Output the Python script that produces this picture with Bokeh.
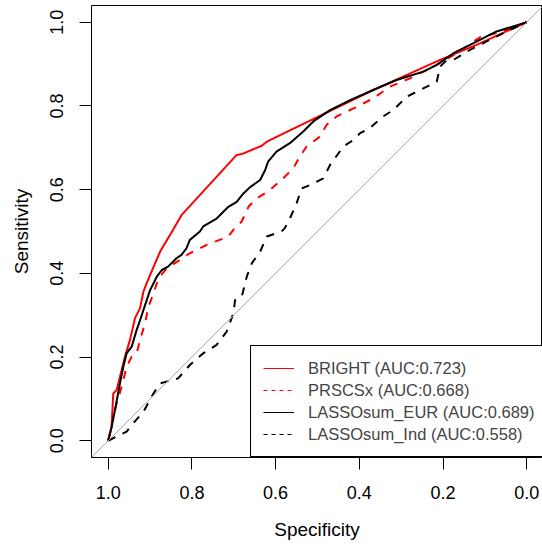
from bokeh.plotting import figure
from bokeh.models import (Range1d, FixedTicker, CustomJSTickFormatter, Slope,
                          Legend, LegendItem)
from bokeh.embed import file_html
from bokeh.resources import INLINE

# ---- data ----
series_names = ["BRIGHT (AUC:0.723)", "PRSCSx (AUC:0.668)",
                "LASSOsum_EUR (AUC:0.689)", "LASSOsum_Ind (AUC:0.558)"]

bright_spec = [1.0, 0.992, 0.988, 0.980, 0.972, 0.960, 0.948, 0.936, 0.924, 0.916, 0.908,
               0.876, 0.845, 0.825, 0.693, 0.681, 0.633, 0.622, 0.582, 0.367, 0.207, 0.120, 0.0]
bright_sens = [0.0, 0.033, 0.113, 0.121, 0.153, 0.201, 0.241, 0.293, 0.317, 0.356, 0.377,
               0.452, 0.504, 0.539, 0.683, 0.685, 0.705, 0.714, 0.734, 0.838, 0.910, 0.946, 1.0]

prscsx_spec = [1.0, 0.988, 0.980, 0.968, 0.956, 0.944, 0.932, 0.924, 0.912, 0.904, 0.892,
               0.880, 0.860, 0.829, 0.805, 0.765, 0.713, 0.701, 0.681, 0.665, 0.645, 0.614,
               0.582, 0.558, 0.542, 0.526, 0.494, 0.478, 0.454, 0.414, 0.367, 0.327, 0.279,
               0.215, 0.167, 0.112, 0.056, 0.0]
prscsx_sens = [0.0, 0.057, 0.089, 0.129, 0.177, 0.201, 0.209, 0.241, 0.281, 0.320, 0.352,
               0.388, 0.412, 0.432, 0.448, 0.468, 0.488, 0.504, 0.524, 0.559, 0.579, 0.599,
               0.627, 0.651, 0.679, 0.703, 0.727, 0.755, 0.775, 0.794, 0.818, 0.846, 0.866,
               0.898, 0.926, 0.964, 0.978, 1.0]

eur_spec = [1.0, 0.992, 0.984, 0.972, 0.964, 0.956, 0.944, 0.932, 0.924, 0.912, 0.900,
            0.884, 0.872, 0.857, 0.837, 0.825, 0.813, 0.805, 0.781, 0.773, 0.741, 0.713,
            0.693, 0.677, 0.661, 0.637, 0.625, 0.618, 0.598, 0.566, 0.534, 0.510, 0.470,
            0.422, 0.367, 0.311, 0.247, 0.215, 0.175, 0.127, 0.072, 0.0]
eur_sens = [0.0, 0.033, 0.073, 0.137, 0.177, 0.209, 0.225, 0.265, 0.288, 0.324, 0.360,
            0.392, 0.408, 0.416, 0.436, 0.444, 0.460, 0.480, 0.500, 0.512, 0.531, 0.559,
            0.571, 0.591, 0.606, 0.623, 0.647, 0.667, 0.691, 0.711, 0.739, 0.763, 0.790,
            0.814, 0.838, 0.862, 0.882, 0.898, 0.926, 0.950, 0.978, 1.0]

ind_spec = [1.0, 0.980, 0.956, 0.940, 0.916, 0.892, 0.876, 0.833, 0.805, 0.773, 0.741,
            0.717, 0.701, 0.697, 0.681, 0.669, 0.657, 0.637, 0.621, 0.586, 0.578, 0.566,
            0.550, 0.538, 0.518, 0.486, 0.470, 0.438, 0.414, 0.398, 0.375, 0.343, 0.319,
            0.287, 0.255, 0.215, 0.207, 0.195, 0.175, 0.143, 0.088, 0.040, 0.0]
ind_sens = [0.0, 0.010, 0.022, 0.042, 0.069, 0.113, 0.137, 0.149, 0.181, 0.209, 0.229,
            0.261, 0.304, 0.336, 0.344, 0.392, 0.424, 0.452, 0.488, 0.500, 0.508, 0.531,
            0.567, 0.603, 0.611, 0.627, 0.659, 0.703, 0.719, 0.735, 0.747, 0.775, 0.790,
            0.822, 0.838, 0.858, 0.894, 0.906, 0.910, 0.930, 0.958, 0.982, 1.0]

tick_values = [0.0, 0.2, 0.4, 0.6, 0.8, 1.0]

FONT = "Liberation Sans"
NAN = float("nan")

p = figure(width=542, height=546, output_backend="svg", toolbar_location=None,
           x_range=Range1d(1.04, -0.0377), y_range=Range1d(-0.04, 1.04),
           min_border_left=91, min_border_right=0, min_border_top=5, min_border_bottom=89,
           x_axis_label="Specificity", y_axis_label="Sensitivity")

p.outline_line_color = "black"
p.outline_line_width = 1
p.xgrid.visible = False
p.ygrid.visible = False

fmt = CustomJSTickFormatter(code="return tick.toFixed(1);")
for ax in (p.xaxis[0], p.yaxis[0]):
    ax.ticker = FixedTicker(ticks=tick_values)
    ax.formatter = fmt
    ax.axis_line_color = None
    ax.major_tick_in = 0
    ax.major_tick_out = 12
    ax.major_tick_line_color = "black"
    ax.minor_tick_line_color = None
    ax.major_label_text_font = FONT
    ax.major_label_text_font_size = "18px"
    ax.major_label_text_color = "black"
    ax.axis_label_text_font = FONT
    ax.axis_label_text_font_size = "19px"
    ax.axis_label_text_font_style = "normal"
    ax.axis_label_text_color = "black"

p.xaxis[0].major_label_standoff = 16
p.xaxis[0].axis_label_standoff = 17
p.yaxis[0].major_label_orientation = "vertical"
p.yaxis[0].major_label_standoff = 16
p.yaxis[0].axis_label_standoff = 16

# identity line
p.add_layout(Slope(gradient=-1, y_intercept=1, line_color="#a9a9a9", line_width=1))

specs = [bright_spec, prscsx_spec, eur_spec, ind_spec]
senss = [bright_sens, prscsx_sens, eur_sens, ind_sens]
colors = ["#ff0000", "#ff0000", "black", "black"]
dashes = ["solid", "8 8", "solid", "8 8"]
leg_dashes = ["solid", "4 4", "solid", "4 4"]

items = []
for sp, se, c, d, ld, name in zip(specs, senss, colors, dashes, leg_dashes, series_names):
    p.line(sp, se, line_color=c, line_width=2, line_dash=d, line_join="round")
    dummy = p.line(x=[NAN], y=[NAN], line_color=c, line_width=1, line_dash=ld)
    items.append(LegendItem(label=name, renderers=[dummy]))

legend = Legend(items=items, location=(159, 0), margin=0, padding=12, spacing=2,
                label_height=20, glyph_height=20, glyph_width=31, label_standoff=14,
                label_text_font=FONT, label_text_font_size="16.5px",
                border_line_color="black", border_line_width=1, border_line_alpha=1,
                background_fill_color="white", background_fill_alpha=1)
p.add_layout(legend, "center")

open("out.html", "w").write(file_html(p, INLINE))
